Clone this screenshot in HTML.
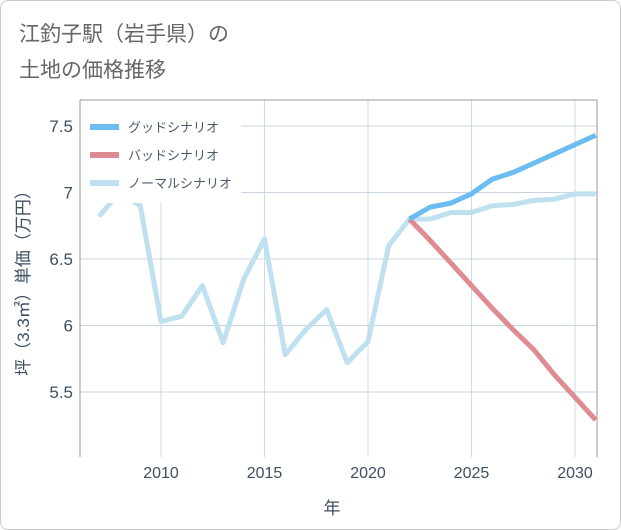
<!DOCTYPE html>
<html><head><meta charset="utf-8"><style>
body{margin:0;background:#fff;font-family:"Liberation Sans","Noto Sans CJK JP",sans-serif}
#wrap{position:relative;width:619px;height:528px;border:1px solid #ccc;border-radius:8px;overflow:hidden}
</style></head><body>
<div id="wrap">
<svg id="c" width="619" height="528"></svg>
</div>
<script>
const years=[2007,2008,2009,2010,2011,2012,2013,2014,2015,2016,2017,2018,2019,2020,2021,2022,2023,2024,2025,2026,2027,2028,2029,2030,2031];
const normal=[6.82,7.0,6.9,6.03,6.07,6.3,5.87,6.35,6.65,5.78,5.97,6.12,5.72,5.88,6.6,6.8,6.8,6.85,6.85,6.9,6.91,6.94,6.95,6.99,6.99];
const futureYears=[2022,2023,2024,2025,2026,2027,2028,2029,2030,2031];
const good=[6.8,6.89,6.92,6.99,7.1,7.15,7.22,7.29,7.36,7.43];
const bad=[6.8,6.64,6.47,6.3,6.13,5.97,5.82,5.63,5.46,5.29];
const xTicks=[2010,2015,2020,2025,2030];
const yTicks=[5.5,6,6.5,7,7.5];
const NS='http://www.w3.org/2000/svg',svg=document.getElementById('c');
const L=79,R=596,T=99,B=456;
const x=v=>160+(v-2010)*20.7, y=v=>391-(v-5.5)*133;
function el(t,a,p){const e=document.createElementNS(NS,t);for(const k in a)e.setAttribute(k,a[k]);(p||svg).appendChild(e);return e;}
function txt(s,a){const e=el('text',a);e.textContent=s;return e;}
const t1=txt('江釣子駅（岩手県）の',{x:18,y:40,'font-size':21,fill:'#666'});

const t2=txt('土地の価格推移',{x:18,y:76,'font-size':21,fill:'#666'});

xTicks.forEach(v=>{const g=el('line',{x1:x(v),x2:x(v),y1:T,y2:B,stroke:'#c8dcea','stroke-width':1});

const t=txt(v,{x:x(v),y:477,'font-size':16,fill:'#3d4f63','text-anchor':'middle'});
});
yTicks.forEach(v=>{const g=el('line',{x1:L,x2:R,y1:y(v),y2:y(v),stroke:'#c8d4e0','stroke-width':1});

const t=txt(v,{x:72,y:y(v)+6,'font-size':17,fill:'#3d4f63','text-anchor':'end'});
});
const fr=el('path',{d:`M${L},${T}H${R}V${B}M${L},${T}V${B}`,stroke:'#999',fill:'none','stroke-width':1});

function line(xs,ys,c,n){const p=el('polyline',{points:xs.map((v,i)=>x(v)+','+y(ys[i])).join(' '),fill:'none',stroke:c,'stroke-width':5,'stroke-linejoin':'round'});
}
line(years,normal,'#bfe0ee','normal-scenario-line');
line(futureYears,bad,'#de8b92','bad-scenario-line');
line(futureYears,good,'#6cbcf2','good-scenario-line');
const lb=el('rect',{x:L+1,y:T+1,width:160,height:102,fill:'#fff'});

[['グッドシナリオ','#6cbcf2',126],['バッドシナリオ','#de8b92',154],['ノーマルシナリオ','#bfe0ee',182]].forEach(([s,c,yy])=>{
const g=el('g',{});
el('rect',{x:89,y:yy-3,width:29,height:6,fill:c},g);
const t=el('text',{x:127,y:yy+5,'font-size':13,fill:'#4a5a6c'},g);t.textContent=s;});
const yt=txt('坪（3.3㎡）単価（万円）',{x:0,y:0,'font-size':17,fill:'#3d4f63','text-anchor':'middle',transform:'translate(28,278) rotate(-90)'});

const xt=txt('年',{x:331,y:513,'font-size':17,fill:'#3d4f63','text-anchor':'middle'});

</script>
</body></html>
